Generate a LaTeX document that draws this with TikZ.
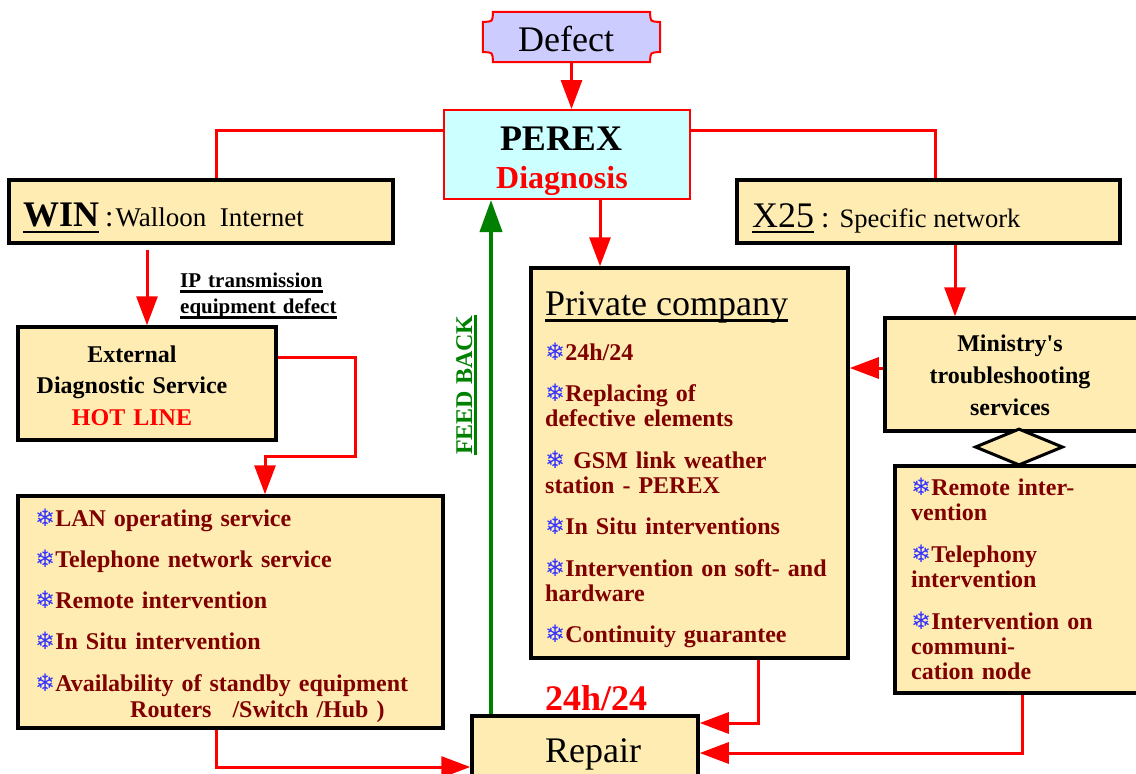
\documentclass[tikz,border=0pt]{standalone}
\usepackage{fontspec}
\setmainfont{Liberation Serif}
\newfontfamily\flakefont{DejaVu Sans}
\usetikzlibrary{arrows.meta,shapes.geometric}
\definecolor{boxfill}{RGB}{255,236,178}
\definecolor{defectpale}{RGB}{204,204,255}
\definecolor{cyanpale}{RGB}{204,255,255}
\definecolor{itemred}{RGB}{128,0,0}
\definecolor{flakeblue}{RGB}{51,51,255}
\definecolor{feedgreen}{RGB}{0,128,0}
\newcommand{\flake}{{\flakefont\fontsize{24}{24}\selectfont\color{flakeblue}❄}}
\newcommand{\ulbar}[2][4pt]{\leavevmode\setbox0=\hbox{#2}\rlap{\vrule width\wd0 height -#1 depth \dimexpr#1+2.5pt\relax}\box0}

\begin{document}
\begin{tikzpicture}[x=1pt,y=-1pt,
  every node/.style={inner sep=0pt},
  box/.style={draw=black,line width=3.5pt,fill=boxfill},
  redline/.style={draw=red,line width=3pt},
  redarrow/.style={redline,-{Triangle[length=29pt,width=21pt]}},
  greenarrow/.style={draw=feedgreen,line width=4pt,-{Triangle[length=32pt,width=22pt]}},
  itemlist/.style={anchor=base west,align=left,text width=#1,text=itemred,font=\bfseries\fontsize{24}{25}\selectfont},
  bigtext/.style={anchor=base west,font=\fontsize{36}{38}\selectfont},
  boldtext/.style={anchor=base,align=center,text width=240,font=\bfseries\fontsize{24}{32}\selectfont}]
  \useasboundingbox (0,0) rectangle (1136,774);

  % top: defect and diagnosis
  \node[minimum width=177,minimum height=50] (defect) at (571.5,37) {};
  \draw[red,line width=2pt,fill=defectpale]
    ([xshift=10]defect.north west) -- ([xshift=-10]defect.north east)
    .. controls ([xshift=-10,yshift=-10]defect.north east) .. ([yshift=-10]defect.north east)
    -- ([yshift=10]defect.south east)
    .. controls ([xshift=-10,yshift=10]defect.south east) .. ([xshift=-10]defect.south east)
    -- ([xshift=10]defect.south west)
    .. controls ([xshift=10,yshift=10]defect.south west) .. ([yshift=10]defect.south west)
    -- ([yshift=-10]defect.north west)
    .. controls ([xshift=10,yshift=-10]defect.north west) .. ([xshift=10]defect.north west) -- cycle;
  \node[bigtext] (defecttext) at (518,51) {Defect};

  \node[draw=red,line width=2pt,fill=cyanpale,minimum width=246,minimum height=89] (perex) at (567,154.5) {};
  \node[anchor=base,font=\bfseries\fontsize{36}{38}\selectfont] (perextext) at (561,150) {PEREX};
  \node[anchor=base,text=red,font=\bfseries\fontsize{32}{34}\selectfont] (diagtext) at (562,188) {Diagnosis};

  % networks
  \node[box,minimum width=384,minimum height=63] (win) at (201,211.5) {};
  \node[anchor=base west] (wintext) at (23,226) {{\fontsize{36}{36}\selectfont\bfseries\ulbar[4.5pt]{WIN}}\hspace{6pt}{\fontsize{30}{30}\selectfont:}\hspace{2pt}{\fontsize{27}{27}\selectfont Walloon\ \ Internet}};
  \node[box,minimum width=383,minimum height=63] (x25) at (928.5,211.5) {};
  \node[anchor=base west] (x25text) at (752,227) {{\fontsize{36}{36}\selectfont\ulbar[3.5pt]{X25}}\hspace{7pt}{\fontsize{30}{30}\selectfont:}\hspace{10pt}{\fontsize{26.6}{27}\selectfont Specific network}};

  \node[anchor=base west,align=left,text width=200,font=\bfseries\fontsize{21}{26}\selectfont] (iptext) at (180,287) {\ulbar[3pt]{IP transmission}\\\ulbar[3pt]{equipment defect}};

  % left column
  \node[box,minimum width=258,minimum height=113] (ext) at (147,383.5) {};
  \node[boldtext,font=\bfseries\fontsize{24}{31.5}\selectfont] (exttext) at (132,362) {External\\Diagnostic Service\\\textcolor{red}{HOT LINE}};

  \node[box,minimum width=425,minimum height=232] (lan) at (230.5,612) {};
  \node[itemlist=400,font=\bfseries\fontsize{24}{26}\selectfont] (lanlist) at (35,526) {%
    \flake LAN operating service\\[15.25pt]
    \flake Telephone network service\\[15.25pt]
    \flake Remote intervention\\[15.25pt]
    \flake In Situ intervention\\[15.25pt]
    \flake Availability of standby equipment\\
    \hspace*{95pt}Routers\hspace{21pt}/Switch /Hub )};

  % middle column
  \node[box,minimum width=317,minimum height=390] (private) at (689.5,463) {};
  \node[bigtext] (privtitle) at (545,315) {\ulbar[4pt]{Private company}};
  \node[itemlist=300] (privlist) at (545,360) {%
    \flake 24h/24\\[16.5pt]
    \flake Replacing of\\defective elements\\[16.5pt]
    \flake\ GSM link weather\\station - PEREX\\[16.5pt]
    \flake In Situ interventions\\[16.5pt]
    \flake Intervention on soft- and\\hardware\\[16.5pt]
    \flake Continuity guarantee};

  \node[box,minimum width=226,minimum height=74] (repair) at (585,753) {};
  \node[bigtext] (repairtext) at (545,762) {Repair};
  \node[anchor=base west,text=red,font=\bfseries\fontsize{36}{38}\selectfont] (roundclock) at (545,710) {24h/24};

  \node[rotate=90,anchor=base,text=feedgreen,font=\bfseries\fontsize{24}{24}\selectfont] (feedtext) at (472,385) {\ulbar[2pt]{FEED BACK}};

  % right column
  \node[box,minimum width=265,minimum height=113] (ministry) at (1017.5,374.5) {};
  \node[boldtext] (mintext) at (1010,351) {Ministry\textquotesingle s\\troubleshooting\\services};
  \node[box,minimum width=255,minimum height=227] (remote) at (1022.5,579.5) {};
  \node[itemlist=235] (remotelist) at (911,495) {%
    \flake Remote inter-\\vention\\[17pt]
    \flake Telephony\\intervention\\[17pt]
    \flake Intervention on\\communi-\\cation node};
  \node[diamond,draw=black,line width=3pt,fill=boxfill,minimum width=88,minimum height=37] (link) at (1019,447) {};

  % connectors
  \draw[redarrow] (defect.south) -- (defect.south |- perex.north);
  \draw[redline] ([yshift=24.5]perex.west) -| ([xshift=15]win.north);
  \draw[redline] ([yshift=24.5]perex.east) -| ([xshift=6.5]x25.north);
  \draw[redarrow] (ext.north |- win.south) ++(0,5) -- (ext.north);
  \draw[redarrow] ([yshift=26]ext.east) -| ++(78,99) -| ([xshift=34.5]lan.north);
  \draw[redarrow] ([xshift=-14.5]lan.south) |- ([yshift=-14]repair.west);
  \draw[greenarrow] ([xshift=-94]repair.north) -- ([xshift=-94]repair.north |- perex.south);
  \draw[redarrow] ([xshift=33]perex.south) -- ([xshift=33]perex.south |- private.north);
  \draw[redarrow] ([xshift=68.5]private.south) |- ([yshift=30]repair.east);
  \draw[redarrow] ([xshift=26.5]x25.south) -- ([xshift=26.5]x25.south |- ministry.north);
  \draw[redarrow] ([yshift=6.5]ministry.west) -- ([yshift=6.5]ministry.west -| private.east);
  \draw[redarrow] (remote.south) |- (repair.east);
\end{tikzpicture}
\end{document}
